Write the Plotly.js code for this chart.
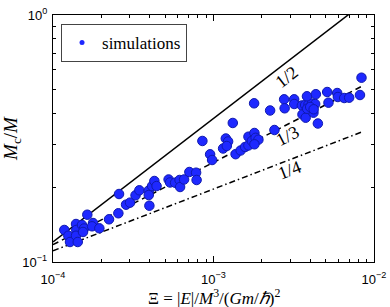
<!DOCTYPE html>
<html><head><meta charset="utf-8">
<script src="https://cdn.plot.ly/plotly-3.0.1.min.js"></script>
<style>html,body{margin:0;padding:0;background:#fff}</style>
</head><body>
<div id="chart" style="width:390px;height:307px"></div>
<script>
// Simulation points: Xi = |E|/M^3/(Gm/hbar)^2  and  Mc/M
const xi = [
  1.176e-4, 1.246e-4, 1.276e-4, 1.391e-4, 1.397e-4, 1.391e-4, 1.426e-4, 1.516e-4, 1.561e-4, 1.538e-4,
  1.636e-4, 1.776e-4, 1.751e-4, 1.944e-4, 2.234e-4, 2.554e-4, 2.579e-4, 2.852e-4, 3.020e-4, 3.268e-4,
  3.452e-4, 3.951e-4, 3.951e-4, 3.986e-4, 4.143e-4, 4.282e-4, 4.419e-4, 5.250e-4, 5.363e-4, 5.763e-4,
  6.146e-4, 6.192e-4, 6.557e-4, 7.073e-4, 7.791e-4, 7.847e-4, 8.527e-4, 9.524e-4, 9.800e-4, 1.148e-3,
  1.193e-3, 1.233e-3, 1.210e-3, 1.319e-3, 1.373e-3, 1.476e-3, 1.574e-3, 1.651e-3, 1.651e-3, 1.733e-3,
  1.799e-3, 1.830e-3, 1.905e-3, 1.799e-3, 1.791e-3, 2.253e-3, 2.397e-3, 2.755e-3, 2.775e-3, 3.181e-3,
  3.181e-3, 3.552e-3, 3.725e-3, 3.906e-3, 4.101e-3, 4.299e-3, 3.583e-3, 3.752e-3, 4.195e-3, 3.833e-3,
  4.002e-3, 4.208e-3, 3.822e-3, 4.342e-3, 4.469e-3, 5.108e-3, 5.204e-3, 5.897e-3, 5.956e-3, 6.521e-3,
  7.003e-3, 8.178e-3, 8.357e-3
];
const mcOverM = [
  0.1348, 0.1278, 0.1205, 0.1425, 0.1348, 0.1278, 0.1205, 0.1412, 0.1366, 0.1323,
  0.1554, 0.1438, 0.1395, 0.1369, 0.1489, 0.1575, 0.1885, 0.1706, 0.1739, 0.1862,
  0.1951, 0.1947, 0.1867, 0.1690, 0.2030, 0.2128, 0.2030, 0.2158, 0.2099, 0.2094,
  0.2148, 0.2012, 0.2158, 0.2314, 0.2299, 0.2148, 0.3090, 0.2729, 0.2588, 0.2881,
  0.3162, 0.3076, 0.2949, 0.3655, 0.2732, 0.2828, 0.2922, 0.2963, 0.3216, 0.3090,
  0.3329, 0.3183, 0.3127, 0.2996, 0.4390, 0.4106, 0.3423, 0.4557, 0.4191, 0.4557,
  0.4362, 0.4301, 0.4321, 0.4342, 0.4382, 0.4362, 0.3956, 0.3839, 0.4023, 0.4175,
  0.4242, 0.4152, 0.4687, 0.4779, 0.3637, 0.4878, 0.4416, 0.4832, 0.4656, 0.4613,
  0.4626, 0.4743, 0.5574
];

// Reference power laws  Mc/M = A * (Xi/1e-4)^slope
const lineSlopes = [1/2, 1/3, 1/4];
const lineLabels = ['1/2', '1/3', '1/4'];
const lineAmp = [0.1205, 0.1175, 0.111];
const lineXRange = [1e-4, 8.3e-3];
const lineDash = ['solid', '6px,4px', '6px,3px,1.5px,3px'];
// label positions (log10 xi, log10 Mc/M) and rotation
const labelPos = [[-2.545, -0.25, -37.6], [-2.54, -0.49, -27.2], [-2.525, -0.628, -21]];

const traces = [];
lineSlopes.forEach((s, i) => {
  traces.push({
    x: lineXRange,
    y: lineXRange.map(v => lineAmp[i] * Math.pow(v / 1e-4, s)),
    mode: 'lines', type: 'scatter', showlegend: false, hoverinfo: 'skip',
    line: {color: '#000', width: 1.5, dash: lineDash[i]}
  });
});
const markerFill = 'rgb(30,40,255)';
const markerEdge = 'rgb(15,25,175)';
traces.push({
  x: xi, y: mcOverM, mode: 'markers', type: 'scatter', showlegend: false,
  marker: {size: 9.5, color: markerFill, line: {color: markerEdge, width: 1}}
});
traces.push({
  x: [null], y: [null], mode: 'markers', type: 'scatter', name: 'simulations',
  marker: {size: 5, color: markerFill}
});

function minorTicks(d0, d1) {
  const out = [];
  for (let d = d0; d < d1; d++) for (let k = 2; k <= 9; k++) out.push(k * Math.pow(10, d));
  return out;
}
const tickFont = {family: 'Liberation Sans, Arial, sans-serif', size: 13, color: '#000'};
const serif = 'Liberation Serif, Times New Roman, serif';
const axisCommon = {
  type: 'log', tickmode: 'array', ticks: 'inside', ticklen: 6, tickwidth: 1, tickcolor: '#000',
  mirror: 'allticks', showline: true, linecolor: '#000', linewidth: 1.2,
  showgrid: false, zeroline: false, tickfont: tickFont, automargin: false
};

const annotations = lineLabels.map((t, i) => ({
  x: labelPos[i][0], y: labelPos[i][1], xref: 'x', yref: 'y', text: t, showarrow: false,
  textangle: labelPos[i][2], font: {family: serif, size: 18, color: '#000'}
}));
// x-axis title placed below the tick labels
annotations.push({
  x: 0.5, y: -0.143, xref: 'paper', yref: 'paper', xanchor: 'center', yanchor: 'middle',
  text: 'Ξ = |<i>E</i>|/<i>M</i><sup>3</sup>/(<i>Gm</i>/<i>ℏ</i>)<sup>2</sup>', showarrow: false,
  font: {family: serif, size: 17, color: '#000'}
});

const layout = {
  width: 390, height: 307,
  margin: {l: 53, r: 16, t: 15, b: 45},
  font: {family: serif, size: 17, color: '#000'},
  paper_bgcolor: '#fff', plot_bgcolor: '#fff',
  xaxis: Object.assign({}, axisCommon, {
    range: [-4, -2],
    tickvals: [1e-4, 1e-3, 1e-2],
    ticktext: ['10<sup>−4</sup>', '10<sup>−3</sup>', '10<sup>−2</sup>'],
    ticklabelstandoff: 5,
    minor: {tickvals: minorTicks(-4, -2), ticks: 'inside', ticklen: 3, tickcolor: '#000', showgrid: false}
  }),
  yaxis: Object.assign({}, axisCommon, {
    range: [-1, 0],
    tickvals: [0.1, 1],
    ticktext: ['10<sup>−1</sup>', '10<sup>0</sup>'],
    ticklabelstandoff: 2,
    minor: {tickvals: minorTicks(-1, 0), ticks: 'inside', ticklen: 3, tickcolor: '#000', showgrid: false},
    title: {text: '<i>M</i><sub>c</sub>/<i>M</i>', font: {family: serif, size: 19, color: '#000'}, standoff: 6}
  }),
  legend: {
    x: 0.025, y: 0.964, xanchor: 'left', yanchor: 'top',
    bordercolor: '#444', borderwidth: 1, bgcolor: '#fff',
    font: {family: serif, size: 17, color: '#000'},
    itemwidth: 30, tracegroupgap: 0
  },
  annotations: annotations,
  showlegend: true
};
Plotly.newPlot('chart', traces, layout, {staticPlot: true, displayModeBar: false});
</script>
</body></html>
